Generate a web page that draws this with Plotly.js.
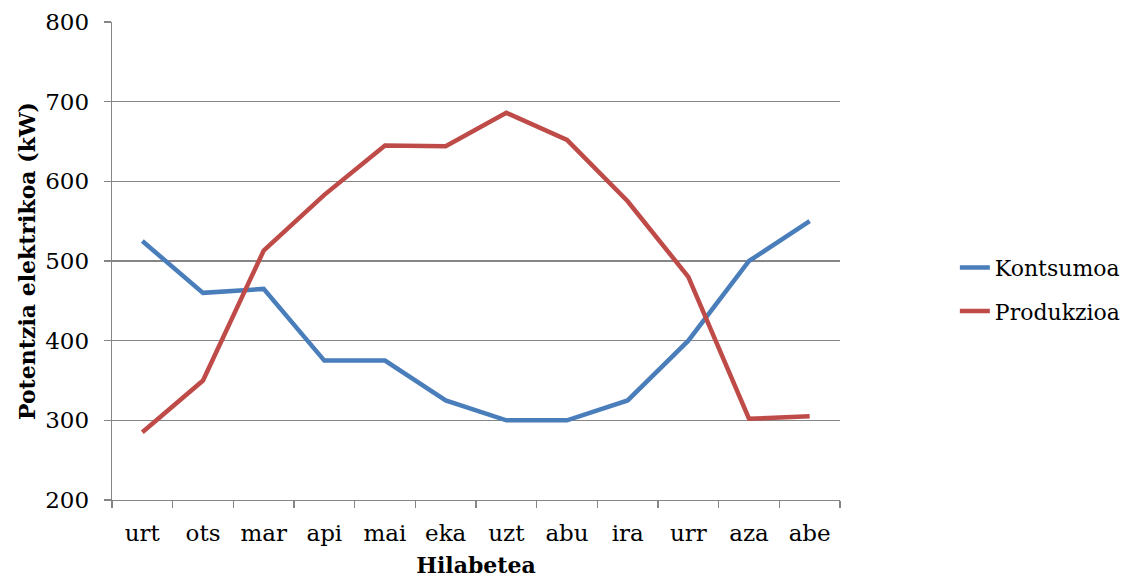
<!DOCTYPE html>
<html>
<head>
<meta charset="utf-8">
<script src="https://cdn.plot.ly/plotly-3.0.1.min.js"></script>
<style>
  html, body { margin: 0; padding: 0; background: #ffffff; }
  #chart { width: 1126px; height: 578px; }
</style>
</head>
<body>
<div id="chart"></div>
<script>
// Months (Basque abbreviations)
const months = ["urt", "ots", "mar", "api", "mai", "eka", "uzt", "abu", "ira", "urr", "aza", "abe"];

// Monthly electric power, kW
const kontsumoa = [525, 460, 465, 375, 375, 325, 300, 300, 325, 400, 500, 550];
const produkzioa = [285, 350, 513, 583, 645, 644, 686, 652, 575, 480, 302, 305];

const seriesNames = ["Kontsumoa", "Produkzioa"];
const seriesColors = ["#4a7ebb", "#be4b48"];

const fontFamily = "'DejaVu Serif', serif";
const gridGray = "#868686";

const traces = [kontsumoa, produkzioa].map((vals, i) => ({
  type: "scatter",
  mode: "lines",
  name: seriesNames[i],
  legendgroup: seriesNames[i],
  x: months,
  y: vals,
  line: { color: seriesColors[i], width: 4.5, shape: "linear" },
  hoverinfo: "x+y+name"
}));

const layout = {
  width: 1126,
  height: 578,
  paper_bgcolor: "#ffffff",
  plot_bgcolor: "#ffffff",
  margin: { l: 112, r: 286, t: 22, b: 78, pad: 0, autoexpand: false },
  font: { family: fontFamily, size: 22, color: "#000000" },
  showlegend: true,
  legend: {
    xref: "container",
    x: 0.848, xanchor: "left",
    y: 0.44, yanchor: "middle",
    traceorder: "grouped",
    tracegroupgap: 12,
    font: { family: fontFamily, size: 22, color: "#000000" },
    bgcolor: "rgba(0,0,0,0)",
    itemwidth: 30
  },
  xaxis: {
    type: "category",
    categoryorder: "array",
    categoryarray: months,
    range: [-0.5, 11.5],
    showline: true,
    linecolor: gridGray,
    linewidth: 1.3,
    showgrid: false,
    zeroline: false,
    ticks: "outside",
    tickson: "boundaries",
    ticklen: 7,
    tickcolor: gridGray,
    tickwidth: 1.3,
    ticklabelstandoff: 12,
    tickfont: { family: fontFamily, size: 23, color: "#000000" },
    title: {
      text: "<b>Hilabetea</b>",
      font: { family: fontFamily, size: 22, color: "#000000" },
      standoff: 14
    },
    automargin: false,
    fixedrange: true
  },
  yaxis: {
    range: [200, 800],
    dtick: 100,
    tick0: 200,
    showline: true,
    linecolor: gridGray,
    linewidth: 1.3,
    showgrid: true,
    gridcolor: gridGray,
    gridwidth: 1.3,
    zeroline: false,
    ticks: "outside",
    ticklen: 7,
    tickcolor: gridGray,
    tickwidth: 1.3,
    ticklabelstandoff: 10,
    tickfont: { family: fontFamily, size: 23, color: "#000000" },
    title: {
      text: "<b>Potentzia elektrikoa (kW)</b>",
      font: { family: fontFamily, size: 22, color: "#000000" },
      standoff: 3
    },
    automargin: false,
    fixedrange: true
  }
};

Plotly.newPlot("chart", traces, layout, { displayModeBar: false, staticPlot: true });
</script>
</body>
</html>
